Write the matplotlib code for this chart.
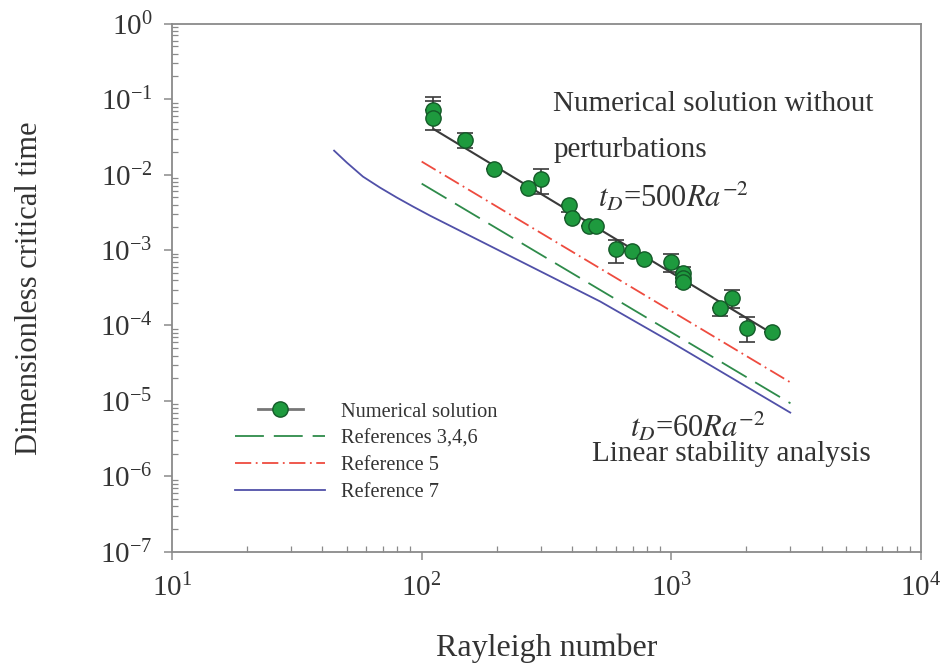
import numpy as np
import matplotlib
matplotlib.use("Agg")
import matplotlib.pyplot as plt
from matplotlib.lines import Line2D
from matplotlib.legend_handler import HandlerLine2D

# numerical solution (Rayleigh number, critical time, error bar ends)
ra_num = [111, 111, 149, 195, 267, 301, 390, 401, 469, 500, 601, 697, 778,
          998, 1115, 1115, 1115, 1567, 1752, 2013, 2535]
t_num = [0.0726, 0.0569, 0.0291, 0.0120, 0.00673, 0.00885, 0.00401, 0.00269,
         0.00211, 0.00211, 0.00102, 0.000985, 0.00077, 0.000704, 0.000503,
         0.000432, 0.000372, 0.000173, 0.000235, 9.4e-5, 8.1e-5]
t_low = [0.0726, 0.0395, 0.0228, 0.0120, 0.00673, 0.0056, 0.0032, 0.00269,
         0.00211, 0.00211, 0.000683, 0.000985, 0.00077, 0.000519, 0.000503,
         0.000432, 0.000319, 0.000132, 0.000173, 5.96e-5, 8.1e-5]
t_high = [0.108, 0.094, 0.036, 0.0120, 0.00673, 0.0120, 0.00401, 0.00269,
          0.00211, 0.00211, 0.00138, 0.000985, 0.00077, 0.0009, 0.000604,
          0.000432, 0.000372, 0.000173, 0.0003, 0.000128, 8.1e-5]

# fitted line tD = 500 Ra^-2
ra_fit = [112, 2540]
t_fit = [0.0399, 7.8e-5]

# linear stability analysis curves
ra_ref346 = [100, 3000]
t_ref346 = [0.0076, 9.3e-6]
ra_ref5 = [100, 3000]
t_ref5 = [0.0149, 1.76e-5]
ra_ref7 = [44.6, 50.2, 58.2, 68.1, 79.6, 92.4, 108, 519, 1000, 2995]
t_ref7 = [0.0208, 0.0144, 0.00941, 0.00673, 0.00496, 0.00377, 0.00286,
          2.08e-4, 6.0e-5, 7.0e-6]

GREEN_DASH = (16, 5.5)
RED_DASH = (9, 2.5, 1, 2.5)


class ShortLineHandler(HandlerLine2D):
    # legend handle with a shorter line (numerical solution entry)
    def create_artists(self, legend, orig_handle, xdescent, ydescent,
                       width, height, fontsize, trans):
        w = width * 0.5
        return super().create_artists(legend, orig_handle,
                                      xdescent - (width - w) / 2, ydescent,
                                      w, height, fontsize, trans)


def main():
    plt.rcParams['font.family'] = ['Liberation Serif', 'DejaVu Serif']
    plt.rcParams['mathtext.fontset'] = 'stix'

    fig = plt.figure(figsize=(9.45, 6.64), dpi=100)
    ax = fig.add_axes([0.182, 0.169, 0.7926, 0.7952])

    ax.plot(ra_ref346, t_ref346, color='#2e8b4a', lw=1.3, dashes=GREEN_DASH)
    ax.plot(ra_ref5, t_ref5, color='#ee4b3f', lw=1.3, dashes=RED_DASH)
    ax.plot(ra_ref7, t_ref7, color='#5050a8', lw=1.3)

    ax.plot(ra_fit, t_fit, color='#3a3a3a', lw=1.5, zorder=3)
    t = np.array(t_num)
    yerr = [t - np.array(t_low), np.array(t_high) - t]
    ax.errorbar(ra_num, t_num, yerr=yerr, fmt='none', ecolor='#3a3a3a',
                elinewidth=1.2, capsize=5.5, capthick=1.2, zorder=4)
    ax.plot(ra_num, t_num, 'o', ms=11, mfc='#1e9a3e', mec='#145a28', mew=1.0,
            zorder=5)

    ax.set_xscale('log')
    ax.set_yscale('log')
    ax.set_xlim(10, 1e4)
    ax.set_ylim(1e-7, 1)

    for s in ax.spines.values():
        s.set_color('#8a8a8a')
        s.set_linewidth(1.3)
    ax.tick_params(which='major', direction='out', length=6, width=1.1,
                   color='#8a8a8a', labelsize=21, labelcolor='#333333')
    ax.tick_params(which='minor', direction='in', length=4, width=0.9,
                   color='#8a8a8a')
    ax.tick_params(axis='x', which='major', pad=10)
    ax.tick_params(axis='y', which='major', pad=8)
    ax.yaxis.set_major_locator(matplotlib.ticker.LogLocator(base=10, numticks=10))
    ax.yaxis.set_minor_locator(matplotlib.ticker.LogLocator(
        base=10, subs=np.arange(2, 10), numticks=10))

    ax.set_xlabel('Rayleigh number', fontsize=23, color='#333333', labelpad=22)
    ax.set_ylabel('Dimensionless critical time', fontsize=22, color='#333333',
                  labelpad=40)

    txt = dict(fontsize=21, color='#333333', va='center')
    ax.text(336, 0.087, 'Numerical solution without', **txt)
    ax.text(336, 0.0214, 'perturbations', **txt)
    ax.text(509, 0.0051, r'$t_D$=500$Ra^{-2}$', fontsize=22,
            color='#333333', va='center')
    ax.text(684, 4.45e-6, r'$t_D$=60$Ra^{-2}$', fontsize=22,
            color='#333333', va='center')
    ax.text(482, 1.95e-6, 'Linear stability analysis', **txt)

    num_handle = Line2D([], [], color='#777777', lw=2, marker='o', ms=11,
                        mfc='#1e9a3e', mec='#145a28')
    handles = [
        num_handle,
        Line2D([], [], color='#2e8b4a', lw=1.3, dashes=GREEN_DASH),
        Line2D([], [], color='#ee4b3f', lw=1.3, dashes=RED_DASH),
        Line2D([], [], color='#5050a8', lw=1.3),
    ]
    labels = ['Numerical solution', 'References 3,4,6', 'Reference 5',
              'Reference 7']
    ax.legend(handles, labels, loc='upper left', bbox_to_anchor=(0.06, 0.318),
              frameon=False, fontsize=14.7, handlelength=4.4, labelspacing=0.37,
              handletextpad=0.8, labelcolor='#333333',
              handler_map={num_handle: ShortLineHandler(numpoints=1)})

    fig.savefig('out.png', dpi=100)


if __name__ == '__main__':
    main()
